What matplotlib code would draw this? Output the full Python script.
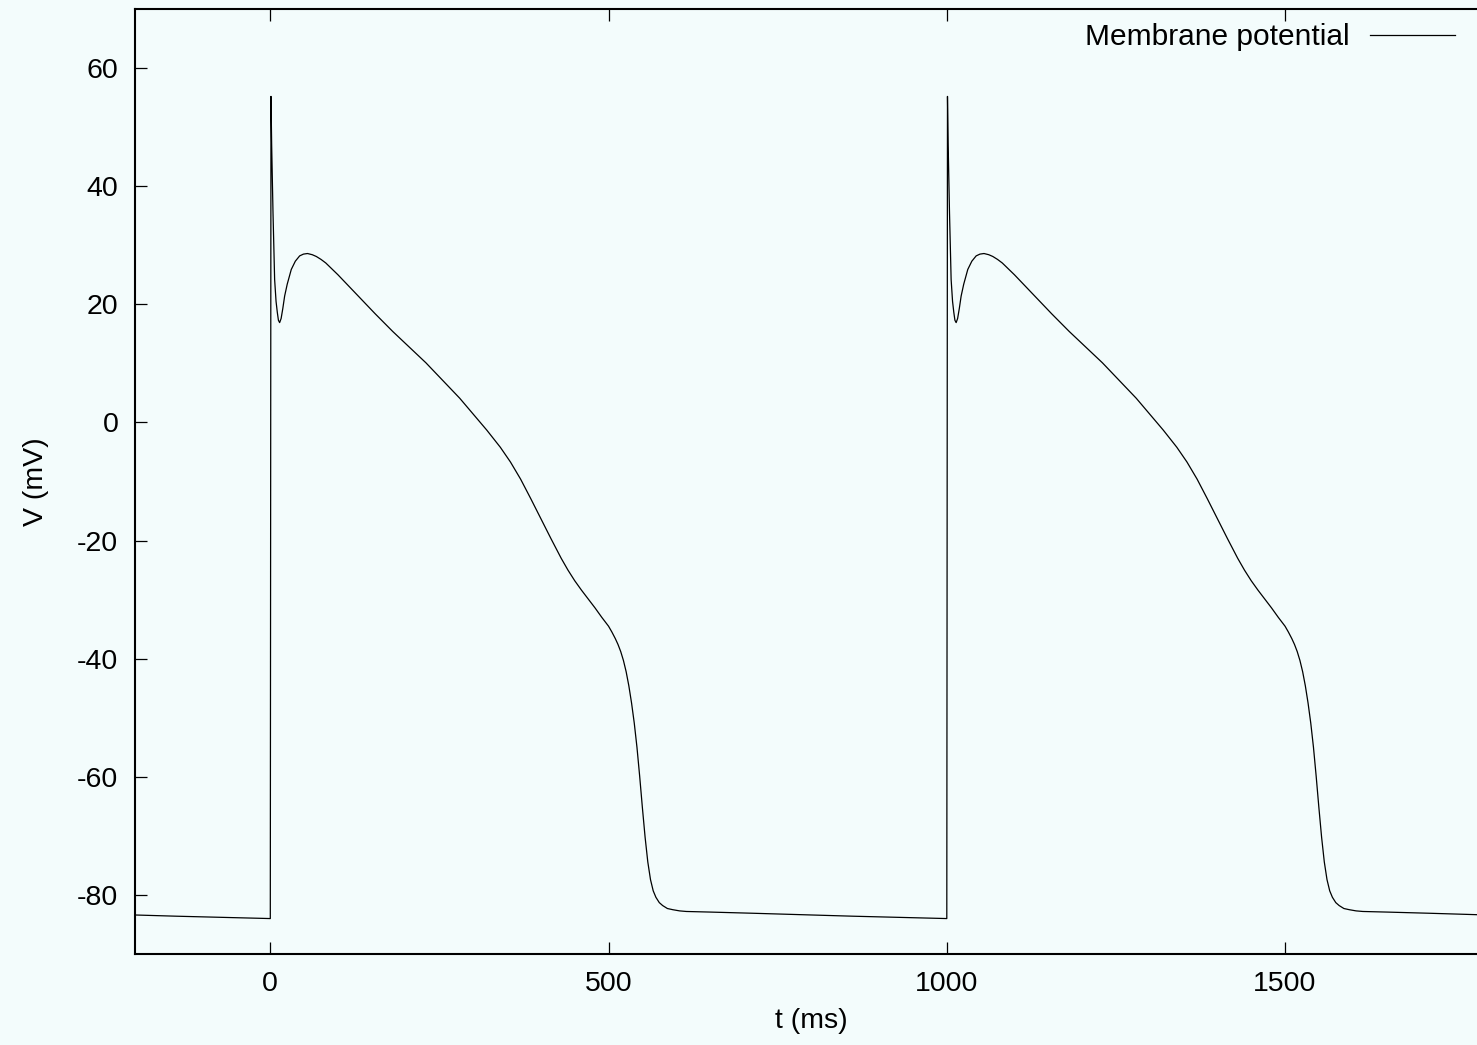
import matplotlib
matplotlib.use("Agg")
from matplotlib import pyplot as plt
import numpy as np

# one action potential (ms, mV), paced every 1000 ms
beat_t = [0, 1, 2, 4, 6.4, 8.5, 10.4, 12, 13.8, 16, 18.5, 21.2, 25, 31, 37,
          43.4, 49, 55, 62, 68, 75, 82, 92, 100, 110, 120, 131.7, 155, 181,
          205, 230, 255, 280, 300, 320, 340, 355, 370, 385, 400, 415, 430,
          440, 450, 460, 470, 480, 490, 500, 505, 510, 514, 518, 522, 526,
          530, 534, 538, 542, 546, 550, 554, 558, 562, 566, 570, 575, 580,
          587, 595, 605, 615, 650, 713, 800, 861, 930, 999.5]
beat_v = [-84.0, 55.2, 47.0, 35.5, 24.2, 20.5, 18.6, 17.3, 16.9, 17.6, 19.3,
          21.4, 23.4, 25.9, 27.3, 28.2, 28.5, 28.6, 28.4, 28.1, 27.6, 27.0,
          25.9, 25.0, 23.8, 22.6, 21.2, 18.4, 15.4, 12.8, 10.1, 7.1, 4.1,
          1.4, -1.3, -4.2, -6.7, -9.6, -12.9, -16.3, -19.7, -23.0, -25.0,
          -26.8, -28.4, -29.9, -31.4, -33.0, -34.5, -35.5, -36.6, -37.6,
          -38.8, -40.3, -42.2, -44.6, -47.5, -50.9, -55.0, -59.9, -65.2,
          -70.2, -74.4, -77.4, -79.3, -80.4, -81.3, -81.8, -82.3, -82.5,
          -82.7, -82.8, -82.9, -83.1, -83.4, -83.6, -83.8, -84.0]
beat_starts = [-1000, 0, 1000]

x_ticks = [0, 500, 1000, 1500]
y_ticks = [-80, -60, -40, -20, 0, 20, 40, 60]

bg = '#f3fcfc'
plt.rcParams['font.family'] = ['Liberation Sans', 'DejaVu Sans']
plt.rcParams['font.size'] = 20.5
plt.rcParams['axes.unicode_minus'] = False

W, H = 1477, 1045
fig = plt.figure(figsize=(W / 100, H / 100), dpi=100, facecolor=bg)
ax = fig.add_axes([135 / W, (H - 954) / H, (1488 - 135) / W, (954 - 9) / H])
ax.set_facecolor(bg)

t_all = np.concatenate([np.array(beat_t) + s for s in beat_starts])
v_all = np.concatenate([beat_v for s in beat_starts])
ax.plot(t_all, v_all, color='black', linewidth=0.9, label='Membrane potential')

ax.set_xlim(-200, 1800)
ax.set_ylim(-90, 70)
ax.set_xticks(x_ticks)
ax.set_yticks(y_ticks)
ax.tick_params(direction='in', length=8.5, width=0.9, pad=12,
               top=True, right=False)
for sp in ax.spines.values():
    sp.set_linewidth(1.5)

ax.set_xlabel('t (ms)', labelpad=8)
ax.set_ylabel('V (mV)', labelpad=20)

ax.legend(loc='center right', bbox_to_anchor=(1455 / W, 1 - 37 / H),
          bbox_transform=fig.transFigure, frameon=False, markerfirst=False,
          fontsize=21.5, handlelength=2.85, handletextpad=0.67,
          borderpad=0, borderaxespad=0)

fig.savefig('out.png', dpi=100, facecolor=bg)
